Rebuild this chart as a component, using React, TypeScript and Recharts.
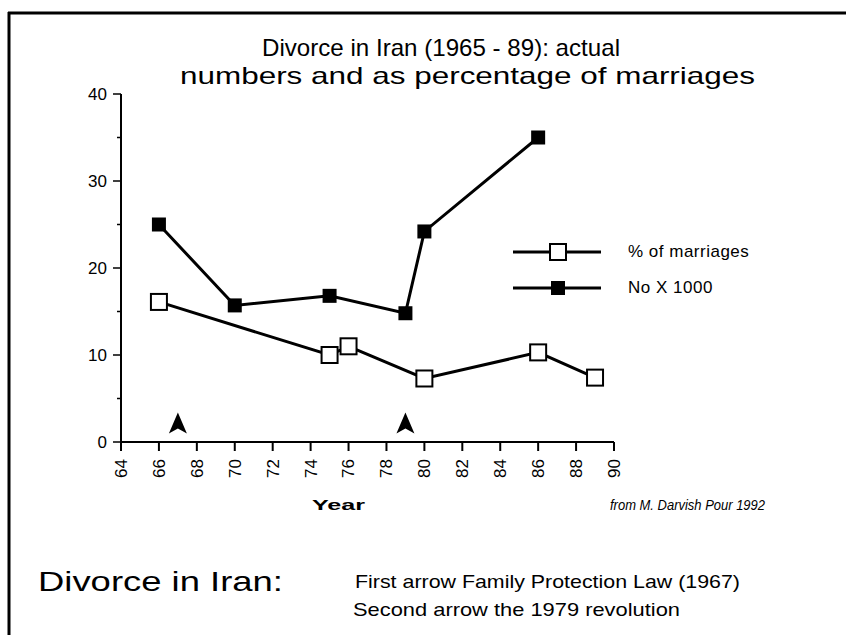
import React from "react"
import { ComposedChart, Line, Scatter, XAxis, YAxis, Legend } from "recharts"

// values
const numberYears = [66, 70, 75, 79, 80, 86]
const numberValues = [25, 15.7, 16.8, 14.8, 24.2, 35]
const percentYears = [66, 75, 76, 80, 86, 89]
const percentValues = [16.1, 10, 11, 7.3, 10.3, 7.4]
const arrowYears = [67, 79]
const arrowLevels = [2, 2]
const xTicks = [64, 66, 68, 70, 72, 74, 76, 78, 80, 82, 84, 86, 88, 90]
const yTicks = [0, 5, 10, 15, 20, 25, 30, 35, 40]

const numberData = numberYears.map((year, i) => ({ year, value: numberValues[i] }))
const percentData = percentYears.map((year, i) => ({ year, value: percentValues[i] }))
const arrowData = arrowYears.map((year, i) => ({ year, value: arrowLevels[i] }))

const FONT = "'Liberation Sans Narrow', 'Liberation Sans', Arial, sans-serif"

function OpenSquare(props: any) {
  const { cx, cy, index } = props
  if (cx == null || cy == null) return null
  return <rect key={`o${index}`} x={cx - 8} y={cy - 8} width={16} height={16} fill="#fff" stroke="#000" strokeWidth={2} />
}

function FilledSquare(props: any) {
  const { cx, cy, index } = props
  if (cx == null || cy == null) return null
  return <rect key={`f${index}`} x={cx - 7} y={cy - 7} width={14} height={14} fill="#000" />
}

function ArrowShape(props: any) {
  const { cx, cy } = props
  return <path d={`M${cx},${cy - 12} L${cx + 9},${cy + 9} L${cx},${cy + 4} L${cx - 9},${cy + 9} Z`} fill="#000" />
}

function YTick(props: any) {
  const { x, y, payload } = props
  const major = payload.value % 10 === 0
  return (
    <g>
      <line x1={x - (major ? 8 : 4)} x2={x} y1={y} y2={y} stroke="#000" strokeWidth={1.5} />
      {major && (
        <text x={x - 14} y={y} dy="0.35em" textAnchor="end" fontSize={17} fontFamily={FONT} fill="#000">
          {payload.value}
        </text>
      )}
    </g>
  )
}

function XTick(props: any) {
  const { x, y, payload } = props
  return (
    <g transform={`translate(${x},${y})`}>
      <line x1={0} x2={0} y1={0} y2={9} stroke="#000" strokeWidth={2} />
      <text transform="rotate(-90)" x={-17} y={0} dy="0.35em" textAnchor="end" fontSize={17} fontFamily={FONT} fill="#000">
        {payload.value}
      </text>
    </g>
  )
}

function LegendBox() {
  const rows = [
    { label: "% of marriages", open: true },
    { label: "No X 1000", open: false },
  ]
  return (
    <div>
      {rows.map((r) => (
        <div key={r.label} style={{ display: "flex", alignItems: "center", height: 36 }}>
          <svg width={88} height={20}>
            <line x1={0} x2={88} y1={10} y2={10} stroke="#000" strokeWidth={3} />
            {r.open ? (
              <rect x={37} y={2} width={16} height={16} fill="#fff" stroke="#000" strokeWidth={2} />
            ) : (
              <rect x={38} y={3} width={14} height={14} fill="#000" />
            )}
          </svg>
          <span style={{ marginLeft: 27, fontSize: 17, fontFamily: FONT, letterSpacing: 0.5 }}>{r.label}</span>
        </div>
      ))}
    </div>
  )
}

export default function App() {
  return (
    <div style={{ position: "absolute", left: 0, top: 0, width: 846, height: 635, background: "#fff" }}>
      <ComposedChart width={846} height={635} margin={{ top: 94, right: 232, bottom: 163, left: 91 }}>
        <XAxis
          type="number"
          dataKey="year"
          domain={[64, 90]}
          ticks={xTicks}
          height={30}
          tickLine={false}
          tickSize={0}
          tickMargin={0}
          tick={<XTick />}
          axisLine={{ stroke: "#000", strokeWidth: 2 }}
          allowDataOverflow
        />
        <YAxis
          type="number"
          domain={[0, 40]}
          ticks={yTicks}
          width={30}
          tickLine={false}
          tickSize={0}
          tickMargin={0}
          tick={<YTick />}
          axisLine={{ stroke: "#000", strokeWidth: 2 }}
        />
        <Legend
          layout="horizontal"
          verticalAlign="middle"
          align="center"
          content={<LegendBox />}
          wrapperStyle={{ position: "absolute", left: 513, top: 234, width: 300 }}
        />
        <Line data={percentData} dataKey="value" stroke="#000" strokeWidth={3} dot={<OpenSquare />} isAnimationActive={false} legendType="none" />
        <Line data={numberData} dataKey="value" stroke="#000" strokeWidth={3} dot={<FilledSquare />} isAnimationActive={false} legendType="none" />
        <Scatter data={arrowData} dataKey="value" shape={<ArrowShape />} isAnimationActive={false} legendType="none" />
      </ComposedChart>
      <svg width={846} height={635} style={{ position: "absolute", left: 0, top: 0, pointerEvents: "none" }}>
        <line x1={8} x2={846} y1={13} y2={13} stroke="#000" strokeWidth={3} />
        <line x1={9} x2={9} y1={12} y2={635} stroke="#000" strokeWidth={3} />
        <g fontFamily={FONT} fill="#000">
          <text x={262} y={56} fontSize={24} textLength={358} lengthAdjust="spacingAndGlyphs">Divorce in Iran (1965 - 89): actual</text>
          <text x={180} y={84} fontSize={24} textLength={575} lengthAdjust="spacingAndGlyphs">numbers and as percentage of marriages</text>
          <text x={312} y={510} fontSize={15} fontWeight="bold" textLength={53} lengthAdjust="spacingAndGlyphs">Year</text>
          <text x={610} y={510} fontSize={15} fontStyle="italic" textLength={155} lengthAdjust="spacingAndGlyphs">from M. Darvish Pour 1992</text>
          <text x={38} y={591} fontSize={28} textLength={245} lengthAdjust="spacingAndGlyphs">Divorce in Iran:</text>
          <text x={355} y={588} fontSize={19} textLength={385} lengthAdjust="spacingAndGlyphs">First arrow Family Protection Law (1967)</text>
          <text x={353} y={616} fontSize={19} textLength={327} lengthAdjust="spacingAndGlyphs">Second arrow the 1979 revolution</text>
        </g>
      </svg>
    </div>
  )
}
